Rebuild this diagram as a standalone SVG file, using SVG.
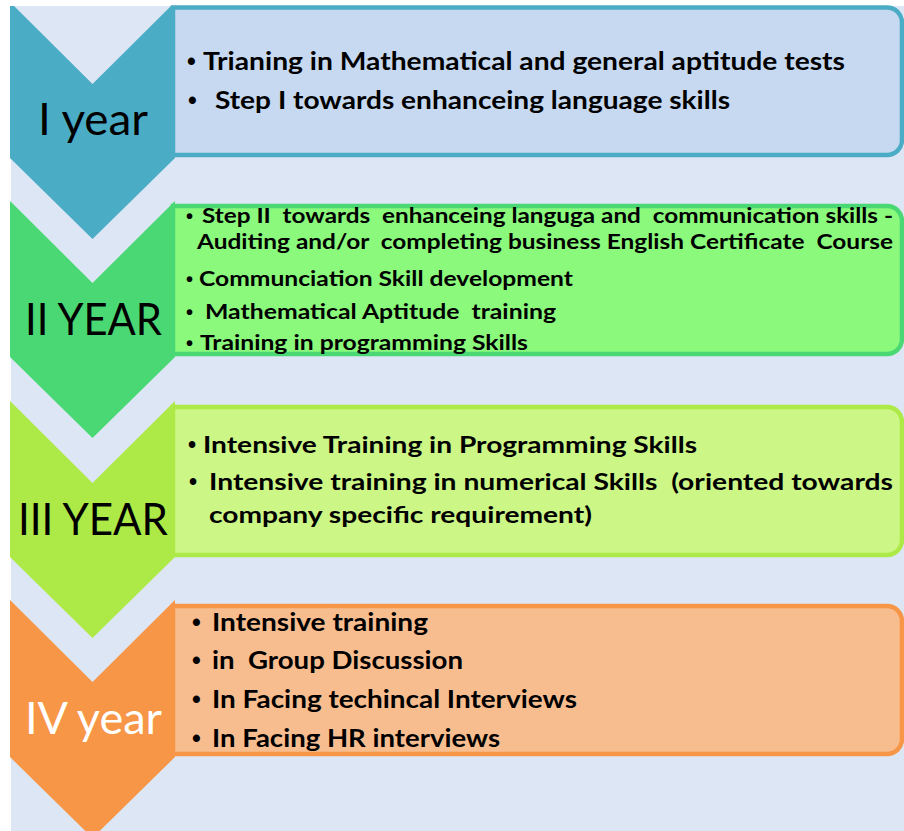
<svg xmlns="http://www.w3.org/2000/svg" width="904" height="831" viewBox="0 0 904 831">
<style>
.lbl{font-family:Lato,"Open Sans","Liberation Sans",sans-serif;font-size:44px;fill:#000}
.t{font-family:Lato,"Open Sans","Liberation Sans",sans-serif;font-weight:700;fill:#000;white-space:pre}
.b{font-family:"Liberation Sans",Arial,sans-serif;font-weight:700;fill:#000}
.f1{font-size:25px}.f2{font-size:20px}.f3{font-size:23px}.f4{font-size:25px}
.box{stroke-width:4.5}
</style>
<rect x="0" y="0" width="904" height="831" fill="#ffffff"/>
<rect x="11" y="6" width="893" height="825" fill="#dce6f4"/>
<g id="connectors"></g>

<g id="year1">
<path class="box" d="M173,7.5 H887 A15,15 0 0 1 902,22.5 V140 A15,15 0 0 1 887,155 H173 Z" fill="#c6d9f1" stroke="#4bacc6"/>
<polygon points="10,6 14,6 92.5,84 171,6 175,6 175,158 92.5,239 10,158" fill="#4bacc6"/>
<text class="lbl" x="38" y="135" textLength="110" lengthAdjust="spacingAndGlyphs">I year</text>
<text class="b f1" x="187" y="70">•</text>
<text class="t f1" x="203" y="70" textLength="642" lengthAdjust="spacingAndGlyphs">Trianing in Mathematical and general aptitude tests</text>
<text class="b f1" x="188" y="109">•</text>
<text class="t f1" x="215" y="109" textLength="515" lengthAdjust="spacingAndGlyphs">Step I towards enhanceing language skills</text>
</g>

<g id="year2">
<path class="box" d="M173,206 H887 A15,15 0 0 1 902,221 V339 A15,15 0 0 1 887,354 H173 Z" fill="#8af97c" stroke="#4ad874"/>
<polygon points="10,201 92.5,283 175,201 175,357 92.5,438 10,357" fill="#4ad874"/>
<text class="lbl" x="25" y="335" textLength="137" lengthAdjust="spacingAndGlyphs">II YEAR</text>
<text class="b f2" x="186" y="223">•</text>
<text class="t f2" x="202" y="223" textLength="691" lengthAdjust="spacingAndGlyphs">Step II  towards  enhanceing languga and  communication skills -</text>
<text class="t f2" x="197" y="249" textLength="696" lengthAdjust="spacingAndGlyphs">Auditing and/or  completing business English Certificate  Course</text>
<text class="b f2" x="186" y="286">•</text>
<text class="t f2" x="199" y="286" textLength="374" lengthAdjust="spacingAndGlyphs">Communciation Skill development</text>
<text class="b f2" x="186" y="319">•</text>
<text class="t f2" x="205" y="319" textLength="351" lengthAdjust="spacingAndGlyphs">Mathematical Aptitude  training</text>
<text class="b f2" x="186" y="350">•</text>
<text class="t f2" x="200" y="350" textLength="328" lengthAdjust="spacingAndGlyphs">Training in programming Skills</text>
</g>

<g id="year3">
<path class="box" d="M173,407 H887 A15,15 0 0 1 902,422 V540 A15,15 0 0 1 887,555 H173 Z" fill="#ccf686" stroke="#aeea47"/>
<polygon points="10,401 92.5,483 175,401 175,557 92.5,638 10,557" fill="#aeea47"/>
<text class="lbl" x="18" y="535" textLength="150" lengthAdjust="spacingAndGlyphs">III YEAR</text>
<text class="b f3" x="188" y="453">•</text>
<text class="t f3" x="203" y="453" textLength="494" lengthAdjust="spacingAndGlyphs">Intensive Training in Programming Skills</text>
<text class="b f3" x="189" y="490">•</text>
<text class="t f3" x="209" y="490" textLength="684" lengthAdjust="spacingAndGlyphs">Intensive training in numerical Skills  (oriented towards</text>
<text class="t f3" x="209" y="523" textLength="383" lengthAdjust="spacingAndGlyphs">company specific requirement)</text>
</g>

<g id="year4">
<path class="box" d="M173,606 H887 A15,15 0 0 1 902,621 V739 A15,15 0 0 1 887,754 H173 Z" fill="#f7bd8f" stroke="#f79646"/>
<polygon points="10,600 92.5,682 175,600 175,757 92.5,838 10,757" fill="#f79646"/>
<text class="lbl" x="25" y="734" textLength="137" lengthAdjust="spacingAndGlyphs" style="fill:#ffffff">IV year</text>
<text class="b f4" x="192" y="631">•</text>
<text class="t f4" x="212" y="631" textLength="216" lengthAdjust="spacingAndGlyphs">Intensive training</text>
<text class="b f4" x="192" y="669">•</text>
<text class="t f4" x="212" y="669" textLength="251" lengthAdjust="spacingAndGlyphs">in  Group Discussion</text>
<text class="b f4" x="192" y="708">•</text>
<text class="t f4" x="212" y="708" textLength="365" lengthAdjust="spacingAndGlyphs">In Facing techincal Interviews</text>
<text class="b f4" x="192" y="747">•</text>
<text class="t f4" x="212" y="747" textLength="288" lengthAdjust="spacingAndGlyphs">In Facing HR interviews</text>
</g>
</svg>
